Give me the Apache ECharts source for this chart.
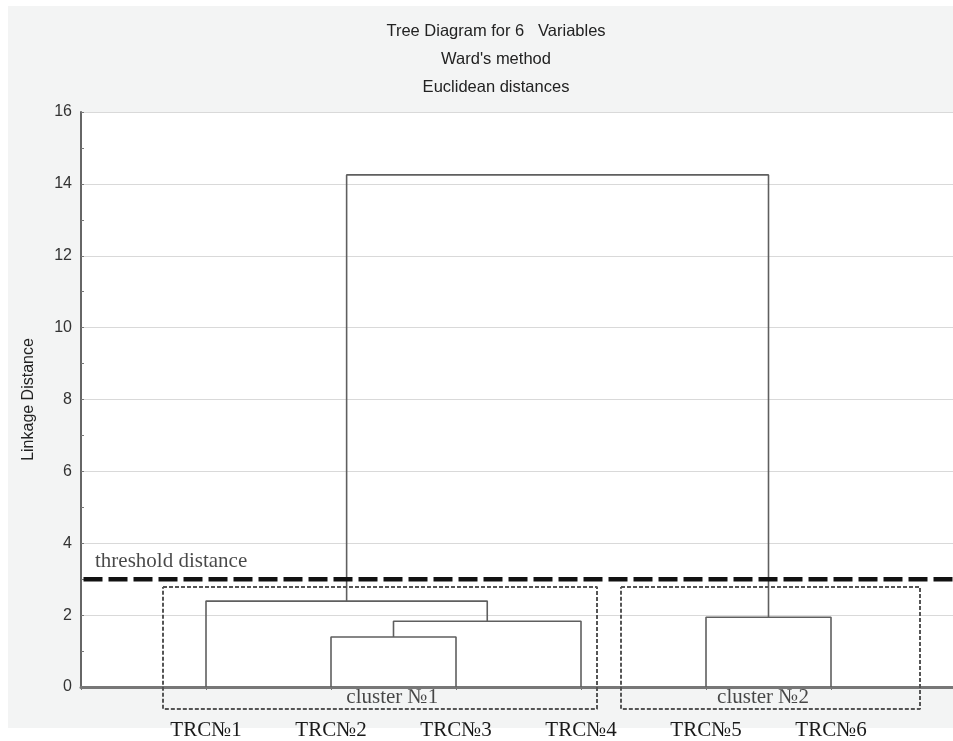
<!DOCTYPE html>
<html>
<head>
<meta charset="utf-8">
<script src="https://cdn.jsdelivr.net/npm/echarts@6/dist/echarts.min.js"></script>
<style>html,body{margin:0;padding:0;background:#fff}#c{width:953px;height:741px}</style>
</head>
<body>
<div id="c"></div>
<script>
// ---- data ----
const leaves = ['TRC№1', 'TRC№2', 'TRC№3', 'TRC№4', 'TRC№5', 'TRC№6'];
// linkage: [childA, childB, height]; leaves are 0..5, merged nodes 6..
const merges = [
  [1, 2, 1.39],
  [6, 3, 1.83],
  [4, 5, 1.94],
  [0, 7, 2.39],
  [9, 8, 14.25]
];
const threshold = 3;
const thresholdLabel = 'threshold distance';
const yTicks = [0, 2, 4, 6, 8, 10, 12, 14, 16];
const clusterNames = ['cluster №1', 'cluster №2'];
const clusterX0 = [0.656, 4.32];
const clusterX1 = [4.128, 6.712];
const clusterY0 = [-0.61, -0.61];
const clusterY1 = [2.78, 2.78];
const clusterLabelX = [2.49, 5.456];
const clusterLabelY = [-0.28, -0.28];
const titleLines = ['Tree Diagram for 6   Variables', "Ward's method", 'Euclidean distances'];

// ---- build ----
const nodeX = leaves.map((_, i) => i + 1);
const nodeH = leaves.map(() => 0);
const linkSeries = [];
merges.forEach(([a, b, h]) => {
  const xa = nodeX[a], xb = nodeX[b];
  linkSeries.push({
    type: 'line', silent: true, symbol: 'none', animation: false,
    lineStyle: { color: '#5f5f5f', width: 1.6 },
    data: [[xa, nodeH[a]], [xa, h], [xb, h], [xb, nodeH[b]]],
    z: 3
  });
  nodeX.push((xa + xb) / 2);
  nodeH.push(h);
});

const boxSeries = clusterNames.map((n, i) => ({
  type: 'line', silent: true, symbol: 'none', animation: false, clip: false,
  lineStyle: { color: '#555', width: 2, type: [4, 2] },
  data: [[clusterX0[i], clusterY1[i]], [clusterX1[i], clusterY1[i]], [clusterX1[i], clusterY0[i]],
         [clusterX0[i], clusterY0[i]], [clusterX0[i], clusterY1[i]]],
  z: 4
}));

const serif = '"Liberation Serif", "DejaVu Serif", serif';
const sans = '"Liberation Sans", Arial, sans-serif';
const xMax = 6.976;

const chart = echarts.init(document.getElementById('c'));
chart.setOption({
  animation: false,
  backgroundColor: '#fff',
  graphic: [{
    type: 'rect', z: -10, silent: true,
    shape: { x: 8, y: 6, width: 945, height: 722 },
    style: { fill: '#f3f4f4' }
  }],
  title: {
    text: titleLines.join('\n'),
    left: 491, top: 12, textAlign: 'center',
    textStyle: { fontFamily: sans, fontSize: 16.5, fontWeight: 'normal', color: '#222', lineHeight: 28 }
  },
  grid: { left: 81, top: 112, right: 0, height: 576, show: true, backgroundColor: '#fff', borderWidth: 0 },
  xAxis: [{
    type: 'value', min: 0, max: xMax, interval: 1, position: 'bottom',
    axisLine: { show: true, onZero: false, lineStyle: { color: '#666', width: 2 } },
    axisTick: { show: false },
    splitLine: { show: false },
    axisLabel: {
      margin: 33, fontFamily: serif, fontSize: 21, color: '#1a1a1a', showMaxLabel: false,
      formatter: v => leaves[v - 1] || ''
    }
  }, {
    type: 'value', min: 0, max: xMax, interval: 1, position: 'top',
    axisLine: { show: true, lineStyle: { color: '#777', width: 3 } },
    axisTick: { show: true, inside: true, length: 3, lineStyle: { color: '#777' } },
    splitLine: { show: false }, axisLabel: { show: false }
  }],
  yAxis: {
    type: 'value', min: yTicks[0], max: yTicks[yTicks.length - 1], interval: 2,
    name: 'Linkage Distance', nameLocation: 'middle', nameGap: 44,
    nameTextStyle: { fontFamily: sans, fontSize: 16, color: '#222' },
    axisLine: { show: true, lineStyle: { color: '#666', width: 2 } },
    axisTick: { show: true, inside: true, length: 3, lineStyle: { color: '#777' } },
    minorTick: { show: true, splitNumber: 2, length: 3, lineStyle: { color: '#777' } },
    splitLine: { show: true, lineStyle: { color: '#d9d9d9', width: 1.2 } },
    axisLabel: { margin: 9, fontFamily: sans, fontSize: 16, color: '#333' }
  },
  series: [
    ...linkSeries,
    {
      type: 'line', silent: true, symbol: 'none', animation: false, clip: false,
      lineStyle: { color: '#111', width: 4.5, type: [19, 6] },
      data: [[0.02, threshold], [xMax, threshold]], z: 5
    },
    ...boxSeries,
    {
      type: 'scatter', silent: true, symbolSize: 0, clip: false, z: 6,
      data: clusterNames.map((n, i) => ({ value: [clusterLabelX[i], clusterLabelY[i]], name: n }))
        .concat([{ value: [0.112, 3.5], name: thresholdLabel,
                   label: { align: 'left', position: 'right', offset: [-5, 0] } }]),
      label: {
        show: true, position: 'inside', formatter: p => p.name,
        fontFamily: serif, fontSize: 21, color: '#1a1a1a'
      }
    }
  ]
});
</script>
</body>
</html>
